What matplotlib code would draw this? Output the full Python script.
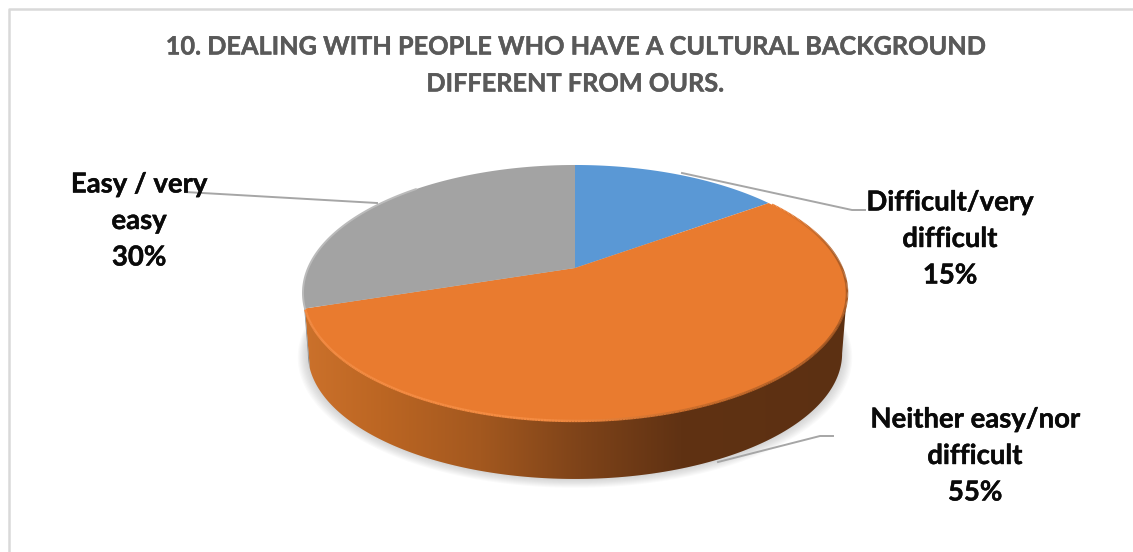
"""3D-style pie chart: dealing with people from a different cultural background."""
import matplotlib
matplotlib.use("Agg")
import matplotlib.pyplot as plt
import matplotlib.patheffects as pe
from matplotlib.collections import LineCollection
from matplotlib.colors import to_rgb
from matplotlib.patches import Polygon
import numpy as np

plt.rcParams['font.family'] = ['Lato', 'DejaVu Sans']

title_lines = ["10. DEALING WITH PEOPLE WHO HAVE A CULTURAL BACKGROUND",
               "DIFFERENT FROM OURS."]
categories = ["Difficult/very\ndifficult", "Neither easy/nor\ndifficult", "Easy / very\neasy"]
values = [15, 55, 30]
colors = ["#5A98D5", "#E97B2F", "#A3A3A3"]

# pie geometry in pixels, with a simple perspective along the depth direction
CX, CY = 575, 268
A, B, P = 266.8, 123.1, 0.195
WALL_CY, WALL_SCALE = 328.8, 0.982


def project(theta, cy=CY, scale=1.0):
    x, y = np.sin(theta), np.cos(theta)
    d = 1 + P * y
    return CX + scale * A * x / d, cy - scale * B * y / d


def arc(t0, t1, n=200, **kw):
    return np.column_stack(project(np.linspace(t0, t1, n), **kw))


def color_ramp(xs, stops):
    sx = [s[0] for s in stops]
    rgb = np.array([to_rgb(s[1]) for s in stops])
    return np.column_stack([np.interp(xs, sx, rgb[:, i]) for i in range(3)])


fig = plt.figure(figsize=(11.33, 5.52), dpi=100)
ax = fig.add_axes([0, 0, 1, 1])
ax.set_xlim(0, 1133)
ax.set_ylim(552, 0)
ax.axis('off')

# chart frame: only top and left edges show
ax.plot([9, 9, 1133], [552, 8.5, 8.5], color="#D9D9D9", lw=1.8, solid_capstyle='butt')

edges = 2 * np.pi * np.cumsum([0] + values) / sum(values)
t_right = np.arccos(-P)
t_left = 2 * np.pi - t_right

# soft shadow under the wall
for i in range(10):
    grow = 1.0 + 0.0042 * i
    pts = arc(0, 2 * np.pi, 300, cy=WALL_CY + 0.35 * i, scale=WALL_SCALE * grow)
    ax.add_patch(Polygon(pts, closed=True, fc="#808080", ec='none', alpha=0.04, zorder=1))

# side wall, orange part with horizontal gradient
orange_wall = np.vstack([arc(t_right, edges[2]),
                         arc(edges[2], t_right, cy=WALL_CY, scale=WALL_SCALE)])
wall_patch = Polygon(orange_wall, closed=True, fc='none', ec='none', zorder=2)
ax.add_patch(wall_patch)
xs = np.arange(300, 851)
wall_stops = [(305, "#CB712B"), (380, "#BC6623"), (480, "#A3581F"), (580, "#7E4319"),
              (680, "#603213"), (850, "#5C3012")]
ramp = color_ramp(xs, wall_stops)[np.newaxis, :, :]
im = ax.imshow(ramp, extent=(300, 851, 480, 290), aspect='auto', zorder=2)
im.set_clip_path(wall_patch)
ax.set_xlim(0, 1133)
ax.set_ylim(552, 0)

# side wall, small grey part on the far left
gray_wall = np.vstack([arc(edges[2], t_left, 40),
                       arc(t_left, edges[2], 40, cy=WALL_CY, scale=WALL_SCALE)])
ax.add_patch(Polygon(gray_wall, closed=True, fc="#8E8E8E", ec='none', zorder=2))

# top faces
for i, c in enumerate(colors):
    pts = np.vstack([[CX, CY], arc(edges[i], edges[i + 1])])
    ax.add_patch(Polygon(pts, closed=True, fc=c, ec='none', zorder=3))

# bevel along the edge of the orange face, shaded by angle around the pie
rim_t = np.linspace(edges[1] + 0.02, edges[2] - 0.01, 400)
rim = arc(rim_t[0], rim_t[-1], 400)
rim_stops = [(np.radians(58), "#E97B2F"), (np.radians(85), "#A85A24"),
             (np.radians(125), "#A85A24"), (np.radians(158), "#C86C2B"),
             (np.radians(185), "#F58C42"), (np.radians(250), "#F28A42")]
segs = np.stack([rim[:-1], rim[1:]], axis=1)
ax.add_collection(LineCollection(segs, colors=color_ramp(rim_t[:-1], rim_stops),
                                 linewidths=1.8, zorder=4))
gray_rim = arc(edges[2], 2 * np.pi - 0.75, 100)
ax.plot(gray_rim[:, 0], gray_rim[:, 1], color="#BBBBBB", lw=1.4, zorder=4)

# leader lines
leaders = [([682, 852, 865], [173, 210, 210]),
           ([718, 820, 833], [462, 436, 436]),
           ([185, 377], [192, 203])]
for lx, ly in leaders:
    ax.plot(lx, ly, color="#A6A6A6", lw=1.4, zorder=5)

# title
for line, y in zip(title_lines, [47, 84]):
    ax.text(575, y, line, fontsize=18.2, fontweight='bold', color="#595959",
            ha='center', va='center', zorder=6,
            path_effects=[pe.withStroke(linewidth=0.3, foreground="#595959")])

# data labels
label_pos = [(950, 239), (975, 456), (139, 221)]
for cat, v, (lx, ly) in zip(categories, values, label_pos):
    ax.text(lx, ly, f"{cat}\n{v}%", fontsize=19.8, fontweight='bold', color="#0A0A0A",
            ha='center', va='center', linespacing=1.5, zorder=6,
            path_effects=[pe.withStroke(linewidth=0.3, foreground="#0A0A0A")])

fig.savefig("out.png", dpi=100, facecolor="white")
plt.close()
